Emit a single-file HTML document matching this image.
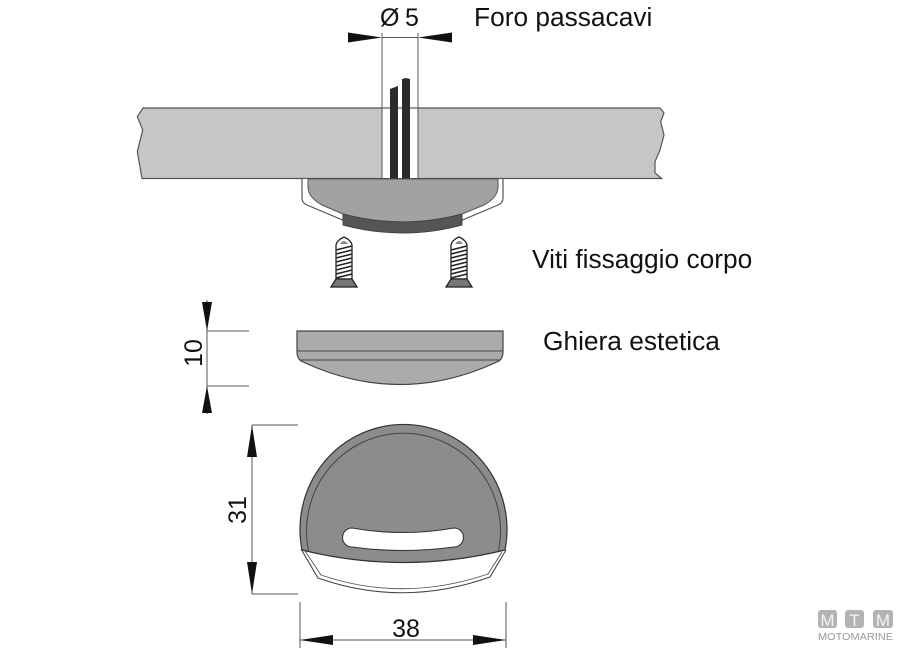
<!DOCTYPE html>
<html>
<head>
<meta charset="utf-8">
<style>
html,body{margin:0;padding:0;background:#fff;}
svg{display:block;}
text{font-family:"Liberation Sans",Arial,sans-serif;fill:#111;}
</style>
</head>
<body>
<svg width="900" height="648" viewBox="0 0 900 648" xmlns="http://www.w3.org/2000/svg">
  <rect width="900" height="648" fill="#fff"/>

  <!-- Plate -->
  <path d="M143,108 L660,108 L664,113 L660.7,121.7 L664,135 L660,150 L655,161.7 L655,173 L661.7,178.5 L142,178.5 L137.3,151.7 L142.7,130 L137.3,116.7 Z" fill="#c6c6c6" stroke="#555" stroke-width="1.2"/>
  <!-- hole -->
  <rect x="382" y="108.6" width="36" height="69.4" fill="#fff"/>
  <line x1="382" y1="108" x2="418" y2="108" stroke="#555" stroke-width="1"/>
  <line x1="382" y1="178.5" x2="418" y2="178.5" stroke="#555" stroke-width="1"/>
  <!-- cables -->
  <path d="M390,89 L398,86 L398,179 L390,179 Z" fill="#2b2b2b"/>
  <path d="M402,79 L406,78 L410,79 L410,179 L402,179 Z" fill="#2b2b2b"/>

  <!-- Ø5 dimension -->
  <line x1="382" y1="33" x2="382" y2="179" stroke="#555" stroke-width="1"/>
  <line x1="418" y1="33" x2="418" y2="179" stroke="#555" stroke-width="1"/>
  <line x1="382" y1="37.5" x2="418" y2="37.5" stroke="#555" stroke-width="1"/>
  <path d="M348,32.5 L382,37.5 L348,42.5 Z" fill="#111"/>
  <path d="M452,32.5 L418,37.5 L452,42.5 Z" fill="#111"/>
  <text x="380" y="26" font-size="25">Ø</text>
  <text x="405" y="26" font-size="25">5</text>
  <text x="474" y="26" font-size="26.3">Foro passacavi</text>

  <!-- Body under plate -->
  <path d="M302,179 L302,198 Q302,203 307,205 L345,221 L460,221 L498,205 Q503,203 503,198 L503,179" fill="#fff" stroke="#555" stroke-width="1.2"/>
  <path d="M308,179 L308,188 Q309,198 322,205 L343,214 Q403,230 462,214 L484,205 Q497,198 498,188 L498,179 Z" fill="#a2a2a2" stroke="#555" stroke-width="1"/>
  <path d="M343,214 Q403,230 462,214 L462,225 Q403,241 343,225 Z" fill="#555" stroke="#444" stroke-width="1"/>

  <!-- Screws -->
  <g>
    <path d="M336,279 L336,245 Q337,240 344,237 Q351,240 352,245 L352,279 Z" fill="#fff" stroke="#222" stroke-width="1.3"/>
    <path d="M340,244 Q344,238 348,244 Z" fill="#888"/>
    <g stroke="#222" stroke-width="1.6">
      <line x1="336" y1="250" x2="352" y2="246"/>
      <line x1="336" y1="254" x2="352" y2="250"/>
      <line x1="336" y1="258" x2="352" y2="254"/>
      <line x1="336" y1="262" x2="352" y2="258"/>
      <line x1="336" y1="266" x2="352" y2="262"/>
      <line x1="336" y1="270" x2="352" y2="266"/>
      <line x1="336" y1="274" x2="352" y2="270"/>
      <line x1="336" y1="278" x2="352" y2="274"/>
    </g>
    <path d="M336,279 L352,279 L357,287 L331,287 Z" fill="#777" stroke="#222" stroke-width="1.3"/>
  </g>
  <g transform="translate(115,0)">
    <path d="M336,279 L336,245 Q337,240 344,237 Q351,240 352,245 L352,279 Z" fill="#fff" stroke="#222" stroke-width="1.3"/>
    <path d="M340,244 Q344,238 348,244 Z" fill="#888"/>
    <g stroke="#222" stroke-width="1.6">
      <line x1="336" y1="250" x2="352" y2="246"/>
      <line x1="336" y1="254" x2="352" y2="250"/>
      <line x1="336" y1="258" x2="352" y2="254"/>
      <line x1="336" y1="262" x2="352" y2="258"/>
      <line x1="336" y1="266" x2="352" y2="262"/>
      <line x1="336" y1="270" x2="352" y2="266"/>
      <line x1="336" y1="274" x2="352" y2="270"/>
      <line x1="336" y1="278" x2="352" y2="274"/>
    </g>
    <path d="M336,279 L352,279 L357,287 L331,287 Z" fill="#777" stroke="#222" stroke-width="1.3"/>
  </g>
  <text x="532" y="268" font-size="26.3">Viti fissaggio corpo</text>

  <!-- Ghiera -->
  <path d="M297,331 H503 V352 Q503,358 499,361 Q400,408 301,361 Q297,358 297,352 Z" fill="#ababab" stroke="#444" stroke-width="1.2"/>
  <line x1="297" y1="351" x2="503" y2="351" stroke="#444" stroke-width="1"/>
  <line x1="300" y1="360" x2="500" y2="360" stroke="#444" stroke-width="1"/>
  <text x="543" y="350" font-size="26.3">Ghiera estetica</text>

  <!-- Dimension 10 -->
  <line x1="207" y1="300" x2="207" y2="414" stroke="#555" stroke-width="1"/>
  <line x1="207" y1="331" x2="249" y2="331" stroke="#555" stroke-width="1"/>
  <line x1="207" y1="386" x2="249" y2="386" stroke="#555" stroke-width="1"/>
  <path d="M202,302 L207,331 L212,302 Z" fill="#111"/>
  <path d="M202,413 L207,386 L212,413 Z" fill="#111"/>
  <text transform="translate(202,353) rotate(-90)" font-size="25" text-anchor="middle">10</text>

  <!-- Front view -->
  <path d="M301,549 L318,578 Q403,608 490,577 L506,550" fill="#fff" stroke="#444" stroke-width="1.1"/>
  <path d="M305,551 L321,575 Q403,603 488,574 L502,552" fill="none" stroke="#555" stroke-width="0.9"/>
  <path d="M302,550 A103.5,105 0 1 1 505,550 Q403,575 302,550 Z" fill="#8c8c8c" stroke="#333" stroke-width="1.2"/>
  <path d="M308.5,551 A97,98 0 1 1 498.5,551" fill="none" stroke="#444" stroke-width="1"/>
  <path d="M352,528 Q403,537 454,528 A9.5,9.5 0 0 1 454,547 Q403,554 352,547 A9.5,9.5 0 0 1 352,528 Z" fill="#fff" stroke="#333" stroke-width="1.1"/>

  <!-- Dimension 31 -->
  <line x1="252" y1="425" x2="252" y2="594" stroke="#555" stroke-width="1"/>
  <line x1="252" y1="425" x2="298" y2="425" stroke="#555" stroke-width="1"/>
  <line x1="252" y1="594" x2="298" y2="594" stroke="#555" stroke-width="1"/>
  <path d="M247,457 L252,425 L257,457 Z" fill="#111"/>
  <path d="M247,562 L252,594 L257,562 Z" fill="#111"/>
  <text transform="translate(246,510) rotate(-90)" font-size="25" text-anchor="middle">31</text>

  <!-- Dimension 38 -->
  <line x1="300" y1="602" x2="300" y2="648" stroke="#555" stroke-width="1"/>
  <line x1="506" y1="602" x2="506" y2="648" stroke="#555" stroke-width="1"/>
  <line x1="300" y1="640" x2="506" y2="640" stroke="#555" stroke-width="1"/>
  <path d="M333,635 L300,640 L333,645 Z" fill="#111"/>
  <path d="M473,635 L506,640 L473,645 Z" fill="#111"/>
  <text x="406" y="637" font-size="25" text-anchor="middle">38</text>

  <!-- Logo -->
  <rect x="818" y="610" width="19" height="18" rx="3" fill="#b3b3b3"/>
  <rect x="845" y="610" width="19" height="18" rx="3" fill="#b3b3b3"/>
  <rect x="873" y="610" width="20" height="18" rx="3" fill="#b3b3b3"/>
  <text x="827.5" y="626" font-size="17" text-anchor="middle" style="fill:#f4f4f4">M</text>
  <text x="854.5" y="626" font-size="17" text-anchor="middle" style="fill:#f4f4f4">T</text>
  <text x="883" y="626" font-size="17" text-anchor="middle" style="fill:#f4f4f4">M</text>
  <text x="818" y="640" font-size="10" textLength="75" lengthAdjust="spacingAndGlyphs" style="fill:#999">MOTOMARINE</text>
</svg>
</body>
</html>
